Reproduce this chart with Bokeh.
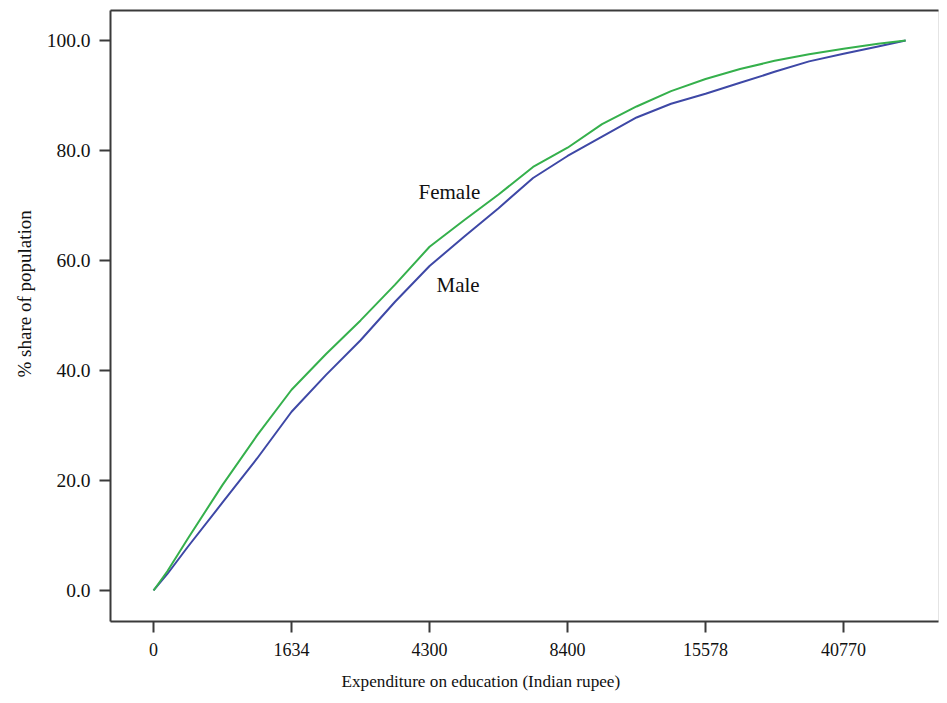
from bokeh.plotting import figure
from bokeh.models import Range1d, FixedTicker, LinearAxis, Label, Title
from bokeh.embed import file_html
from bokeh.resources import INLINE

# Tick labels (expenditure quantile positions, evenly spaced on the axis)
tick_pos = [0, 1, 2, 3, 4, 5]
tick_labels = ["0", "1634", "4300", "8400", "15578", "40770"]

# Curve sample positions along the (ordinal) expenditure axis
pos = [0, 0.1, 0.25, 0.5, 0.75, 1.0, 1.25, 1.5, 1.75, 2.0, 2.25, 2.5, 2.75,
       3.0, 3.25, 3.5, 3.75, 4.0, 4.25, 4.5, 4.75, 5.0, 5.25, 5.45]
female = [0, 3.5, 9.5, 19.2, 28.2, 36.5, 43.0, 49.1, 55.6, 62.5, 67.3, 72.0, 77.0,
          80.5, 84.8, 88.0, 90.8, 93.0, 94.8, 96.3, 97.5, 98.5, 99.4, 100.0]
male = [0, 3.0, 8.0, 16.0, 24.0, 32.5, 39.2, 45.5, 52.5, 59.0, 64.3, 69.5, 75.0,
        79.0, 82.5, 86.0, 88.5, 90.3, 92.3, 94.3, 96.2, 97.6, 98.9, 100.0]

y_ticks = [0, 20, 40, 60, 80, 100]

FONT = "Liberation Serif"
DARK = "#3a3a3a"
H = 702
FRAME_BOTTOM = 621
FRAME_LEFT = 110

p = figure(width=943, height=H, output_backend="svg", toolbar_location=None,
           x_range=Range1d(-0.312, 5.688), y_range=Range1d(-5.64, 105.45),
           min_border_left=FRAME_LEFT, min_border_right=5, min_border_top=10,
           min_border_bottom=H - FRAME_BOTTOM, x_axis_type=None, y_axis_type=None)
p.grid.visible = False
p.outline_line_color = "#e4e4e4"
p.background_fill_color = "white"
p.border_fill_color = "white"

xaxis = LinearAxis(ticker=FixedTicker(ticks=tick_pos),
                   major_label_overrides={t: l for t, l in zip(tick_pos, tick_labels)})
yaxis = LinearAxis(ticker=FixedTicker(ticks=y_ticks),
                   major_label_overrides={t: f"{t:.1f}" for t in y_ticks})
for ax in (xaxis, yaxis):
    ax.axis_line_color = DARK
    ax.axis_line_width = 2
    ax.major_tick_line_color = DARK
    ax.major_tick_line_width = 2
    ax.major_tick_out = 11
    ax.major_tick_in = 0
    ax.minor_tick_line_color = None
    ax.major_label_text_font = FONT
    ax.major_label_text_color = "#111111"
xaxis.major_label_text_font_size = "18px"
xaxis.major_label_standoff = 10
yaxis.major_label_text_font_size = "19.5px"
yaxis.major_label_standoff = 9
p.add_layout(xaxis, "below")
p.add_layout(yaxis, "left")

top = LinearAxis(ticker=FixedTicker(ticks=[]), axis_line_color=DARK, axis_line_width=2,
                 major_label_text_font_size="0px", major_tick_line_color=None,
                 minor_tick_line_color=None)
p.add_layout(top, "above")

# Axis titles, placed as side titles so they can sit off-centre like the reference
p.add_layout(Title(text="Expenditure on education (Indian rupee)", align="left", offset=231,
                   text_font=FONT, text_font_size="17.2px", text_font_style="normal",
                   text_color="#111111", standoff=22), "below")
p.add_layout(Title(text="% share of population", align="left", offset=244,
                   text_font=FONT, text_font_size="19px", text_font_style="normal",
                   text_color="#111111", standoff=18), "left")

p.line(pos, male, line_color="#3e48a6", line_width=2, line_join="round")
p.line(pos, female, line_color="#35b04c", line_width=2, line_join="round")

p.add_layout(Label(x=1.92, y=72.5, text="Female", text_font=FONT, text_font_size="21px",
                   text_baseline="middle", text_align="left", text_color="#111111"))
p.add_layout(Label(x=2.05, y=55.5, text="Male", text_font=FONT, text_font_size="21px",
                   text_baseline="middle", text_align="left", text_color="#111111"))

open("out.html", "w").write(file_html(p, INLINE))
